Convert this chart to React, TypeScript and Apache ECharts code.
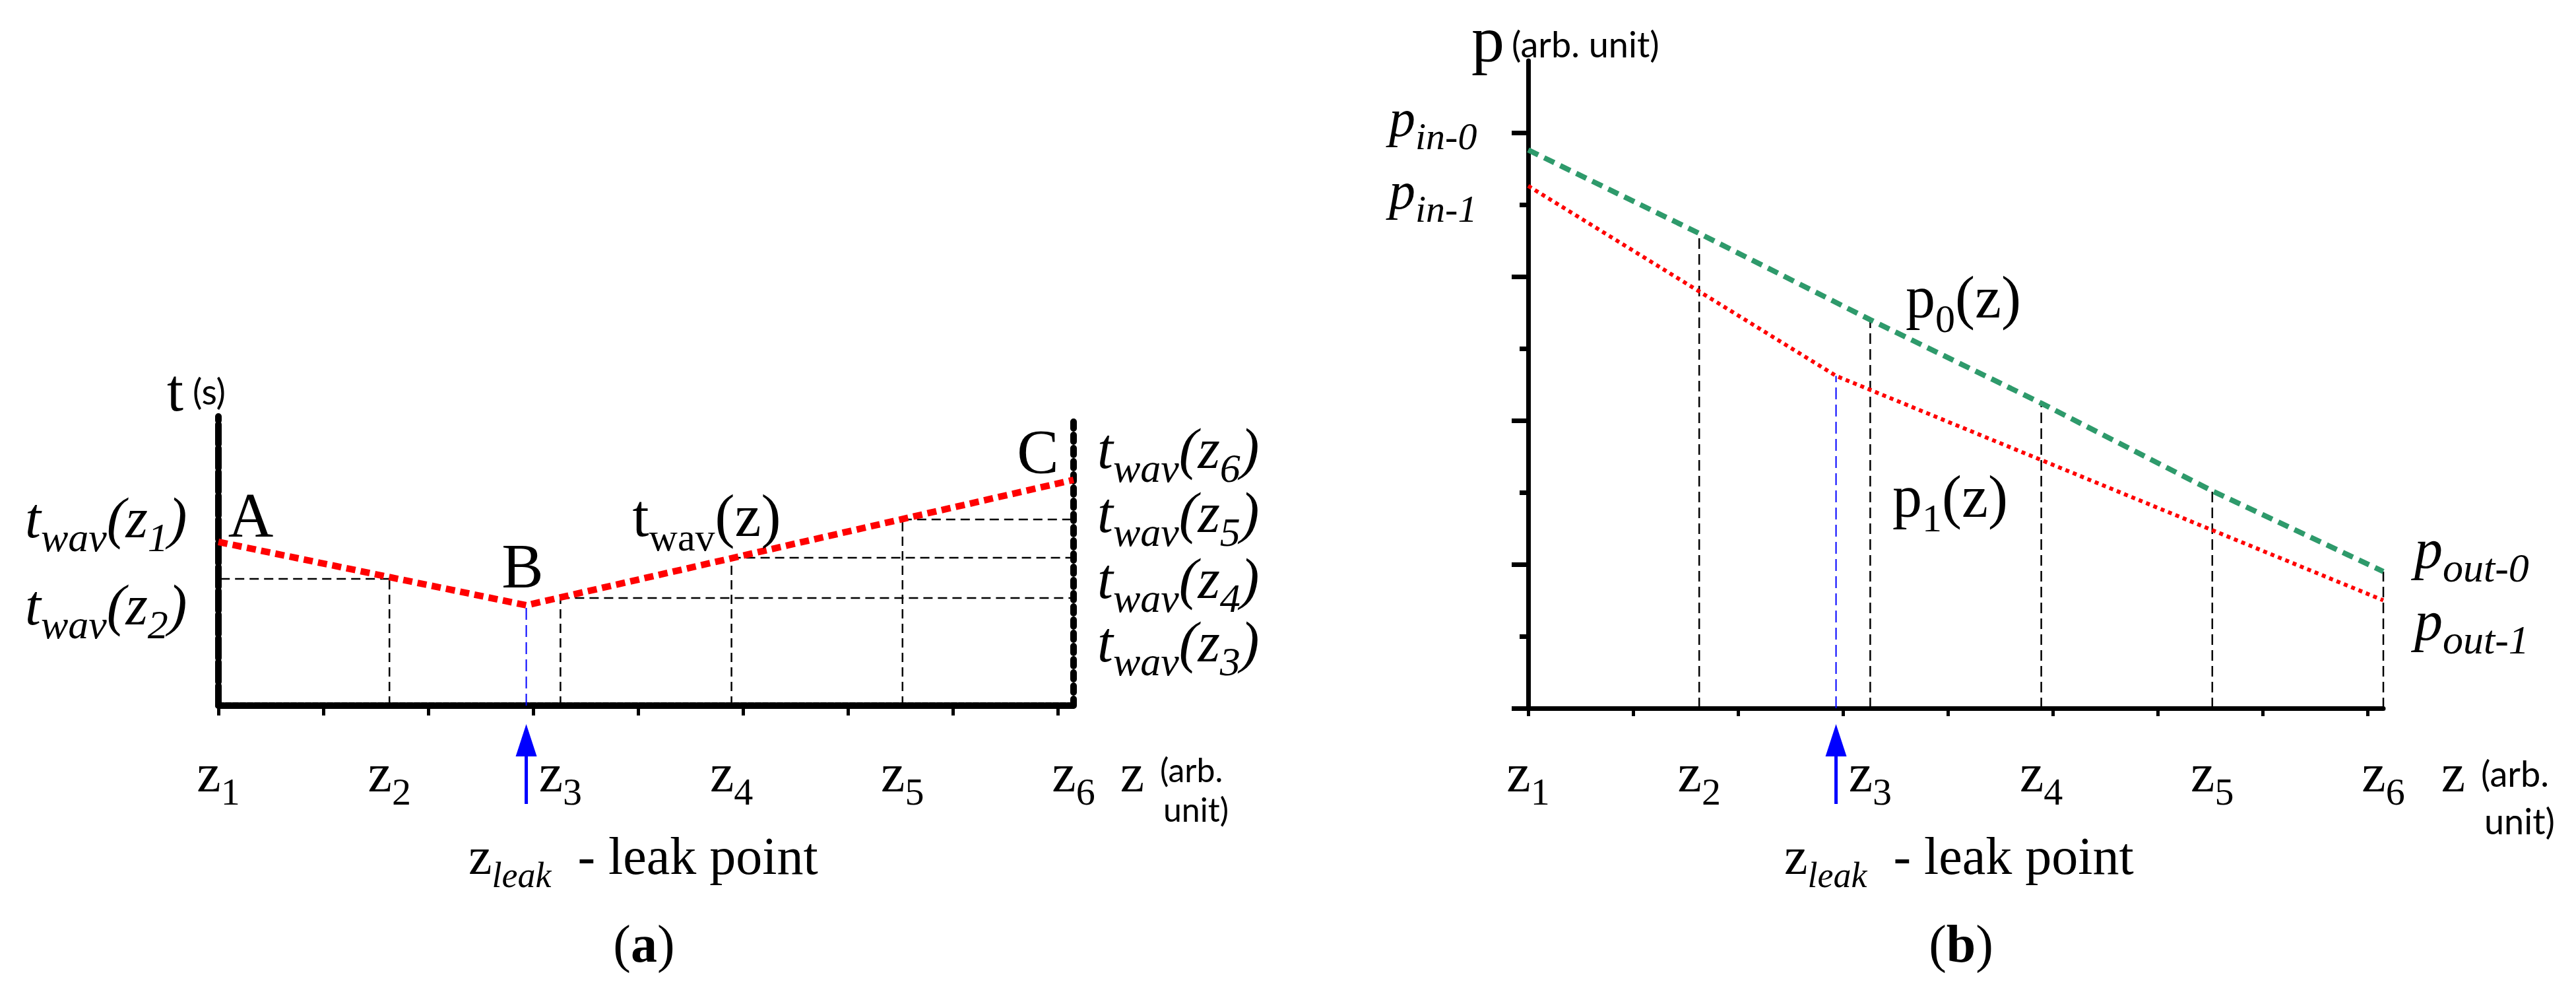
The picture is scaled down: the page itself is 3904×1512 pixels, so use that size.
import React, { useEffect, useRef } from 'react';
import * as echarts from 'echarts';

// ---------- data ----------
const zIndex = [1, 2, 3, 4, 5, 6];
const zLeak = 2.8;
const tickSteps = [0, 1, 2, 3, 4, 5, 6, 7, 8];

// (a) wave arrival time t_wav(z)
const twavKnotZ = [1, 2.8, 6];
const twavKnotT = [2.48, 1.52, 3.42];
const twavAtZ = [2.48, 1.92, 1.63, 2.24, 2.82, 3.42];
const twavGuideEnd = [null, 1, 6, 6, 6, null];
const leftTLabels = ['1', '2'];
const rightTLabels = ['6', '5', '4', '3'];

// (b) pressure profiles
const p0AtZ = [3.88, 3.3, 2.7, 2.12, 1.51, 0.95];
const p1KnotZ = [1, 2.8, 6];
const p1KnotP = [3.63, 2.31, 0.75];
const pMajorTicks = [0, 1, 2, 3, 4];
const pMinorTicks = [0.5, 1.5, 2.5, 3.5];

const SERIF = '"Liberation Serif","Times New Roman",serif';
const SANS = 'Lato,"Liberation Sans",sans-serif';

function subRich(F: number, f: number, italic: boolean) {
  const fs = italic ? 'italic' : 'normal';
  return {
    m: { fontFamily: SERIF, fontSize: F, lineHeight: Math.round(F * 1.4), fontStyle: fs, fill: '#000' },
    s: { fontFamily: SERIF, fontSize: f, lineHeight: f, verticalAlign: 'bottom', fontStyle: fs, fill: '#000' },
  };
}

function txt(x: number, y: number, text: string, rich: any, align = 'left') {
  return {
    type: 'text',
    x,
    y,
    z: 20,
    silent: true,
    style: { text, rich, align, verticalAlign: 'middle', fill: '#000' },
  };
}

function plain(x: number, y: number, text: string, size: number, family: string, align = 'left') {
  return {
    type: 'text',
    x,
    y,
    z: 20,
    silent: true,
    style: { text, fontSize: size, fontFamily: family, align, verticalAlign: 'middle', fill: '#000' },
  };
}

function seg(xi: number, yi: number, data: any[], color: string, width: number, type: any, z = 2) {
  return {
    type: 'line',
    xAxisIndex: xi,
    yAxisIndex: yi,
    data,
    symbol: 'none',
    silent: true,
    z,
    lineStyle: { color, width, type, cap: 'butt' },
  };
}

export default function App() {
  const ref = useRef<HTMLDivElement>(null);

  useEffect(() => {
    const chart = echarts.init(ref.current!, undefined, { renderer: 'svg' });

    const zLabelRich = {
      m: { fontFamily: SERIF, fontSize: 82, lineHeight: 114, color: '#000' },
      s: { fontFamily: SERIF, fontSize: 58, lineHeight: 58, verticalAlign: 'bottom', color: '#000' },
    };

    const series: any[] = [];
    // ---- panel (a) ----
    zIndex.forEach((z, i) => {
      if (i > 0 && i < 5) {
        series.push(seg(0, 0, [[z, 0], [z, twavAtZ[i]]], '#000', 2.5, [14, 8]));
      }
      const end = twavGuideEnd[i];
      if (end !== null) {
        series.push(seg(0, 0, [[z, twavAtZ[i]], [end, twavAtZ[i]]], '#000', 2.5, [14, 8]));
      }
    });
    series.push(seg(0, 0, [[zLeak, 0], [zLeak, twavKnotT[1]]], '#0000ff', 2, [18, 8]));
    series.push(seg(0, 0, twavKnotZ.map((z, i) => [z, twavKnotT[i]]), '#ff0000', 10, [14, 8], 5));

    // ---- panel (b) ----
    zIndex.forEach((z, i) => {
      if (i > 0) series.push(seg(2, 2, [[z, 0], [z, p0AtZ[i]]], '#000', 2.5, [16, 8]));
    });
    series.push(seg(2, 2, [[zLeak, 0], [zLeak, p1KnotP[1]]], '#0000ff', 2, [18, 8]));
    series.push(seg(2, 2, zIndex.map((z, i) => [z, p0AtZ[i]]), '#2e9a6b', 8, [17, 10], 5));
    series.push(seg(2, 2, p1KnotZ.map((z, i) => [z, p1KnotP[i]]), '#ff0000', 6, [6, 6], 6));

    const noSplit = { show: false };
    const option: any = {
      animation: false,
      backgroundColor: '#fff',
      grid: [
        { left: 331, top: 631, width: 1296, height: 438, containLabel: false, outerBoundsMode: 'none' },
        { left: 2316, top: 92, width: 1296, height: 981, containLabel: false, outerBoundsMode: 'none' },
      ],
      xAxis: [
        {
          gridIndex: 0, type: 'value', min: 1, max: 6, interval: 1, position: 'bottom',
          axisLine: { show: true, onZero: false, lineStyle: { color: '#000', width: 10, type: [8, 3] } },
          axisTick: { show: false }, splitLine: noSplit,
          axisLabel: { show: true, margin: 45, formatter: (v: number) => `{m|z}{s|${v}}`, rich: zLabelRich },
        },
        {
          gridIndex: 0, type: 'value', min: 0, max: 8.15, position: 'bottom',
          axisLine: { show: false, onZero: false },
          axisTick: { show: true, length: 15, customValues: tickSteps, lineStyle: { color: '#000', width: 5 } },
          axisLabel: { show: false }, splitLine: noSplit,
        },
        {
          gridIndex: 1, type: 'value', min: 1, max: 6, interval: 1, position: 'bottom',
          axisLine: { show: true, onZero: false, lineStyle: { color: '#000', width: 7 } },
          axisTick: { show: false }, splitLine: noSplit,
          axisLabel: { show: true, margin: 41, formatter: (v: number) => `{m|z}{s|${v}}`, rich: zLabelRich },
        },
        {
          gridIndex: 1, type: 'value', min: 0, max: 8.15, position: 'bottom',
          axisLine: { show: false, onZero: false },
          axisTick: { show: true, length: 12, customValues: tickSteps, lineStyle: { color: '#000', width: 5 } },
          axisLabel: { show: false }, splitLine: noSplit,
        },
      ],
      yAxis: [
        {
          gridIndex: 0, type: 'value', min: 0, max: 4.38, position: 'left',
          axisLine: { show: true, onZero: false, lineStyle: { color: '#000', width: 10, type: [30, 6] } },
          axisTick: { show: false }, axisLabel: { show: false }, splitLine: noSplit,
        },
        {
          gridIndex: 0, type: 'value', min: 0, max: 4.38, position: 'right',
          axisLine: { show: true, onZero: false, lineStyle: { color: '#000', width: 10, type: 'dotted' } },
          axisTick: { show: false }, axisLabel: { show: false }, splitLine: noSplit,
        },
        {
          gridIndex: 1, type: 'value', min: 0, max: 4.5, position: 'left',
          axisLine: { show: true, onZero: false, lineStyle: { color: '#000', width: 7 } },
          axisTick: { show: true, length: 25, customValues: pMajorTicks, lineStyle: { color: '#000', width: 7 } },
          axisLabel: { show: false }, splitLine: noSplit,
        },
        {
          gridIndex: 1, type: 'value', min: 0, max: 4.5, position: 'left',
          axisLine: { show: false, onZero: false },
          axisTick: { show: true, length: 13, customValues: pMinorTicks, lineStyle: { color: '#000', width: 7 } },
          axisLabel: { show: false }, splitLine: noSplit,
        },
      ],
      series,
    };
    chart.setOption(option);

    const lx = (chart.convertToPixel({ xAxisIndex: 0, yAxisIndex: 0 }, [zLeak, 0]) as number[])[0];
    const rx = (chart.convertToPixel({ xAxisIndex: 2, yAxisIndex: 2 }, [zLeak, 0]) as number[])[0];

    const arrow = (x: number) => [
      { type: 'line', z: 20, silent: true, shape: { x1: x, y1: 1218, x2: x, y2: 1140 }, style: { stroke: '#0000ff', lineWidth: 5 } },
      { type: 'polygon', z: 20, silent: true, shape: { points: [[x, 1097], [x - 16, 1146], [x + 16, 1146]] }, style: { fill: '#0000ff' } },
    ];

    const twR = subRich(86, 62, true);
    const twavLabel = (n: string) => `{m|t}{s|wav}{m|(z}{s|${n}}{m|)}`;
    const pInR = subRich(80, 58, true);
    const pOutR = subRich(86, 62, true);
    const pzR = subRich(90, 60, false);
    const leakRich = {
      m: { fontFamily: SERIF, fontSize: 80, lineHeight: 112, fill: '#000' },
      s: { fontFamily: SERIF, fontSize: 54, lineHeight: 54, verticalAlign: 'bottom', fontStyle: 'italic', fill: '#000' },
    };
    const capRich = {
      m: { fontFamily: SERIF, fontSize: 80, lineHeight: 100, fill: '#000' },
      b: { fontFamily: SERIF, fontSize: 80, lineHeight: 100, fontWeight: 'bold', fill: '#000' },
    };

    const graphic: any[] = [
      // panel (a)
      plain(253, 591, 't', 90, SERIF),
      plain(292, 592, '(s)', 54, SANS),
      plain(380, 781, 'A', 95, SERIF, 'center'),
      plain(792, 858, 'B', 95, SERIF, 'center'),
      plain(1573, 685, 'C', 95, SERIF, 'center'),
      txt(1071, 781, '{m|t}{s|wav}{m|(z)}', subRich(90, 60, false), 'center'),
      ...leftTLabels.map((n, i) => txt(38, [785, 917][i], twavLabel(n), twR)),
      ...rightTLabels.map((n, i) => txt(1663, [680, 777, 877, 973][i], twavLabel(n), twR)),
      plain(1716, 1171, 'z', 82, SERIF, 'center'),
      plain(1758, 1166, '(arb.', 50, SANS),
      plain(1862, 1226, 'unit)', 50, SANS, 'right'),
      txt(710, 1297, '{m|z}{s|leak}{m|  - leak point}', leakRich),
      txt(976, 1430, '{m|(}{b|a}{m|)}', capRich, 'center'),
      ...arrow(lx),
      // panel (b)
      plain(2230, 59, 'p', 100, SERIF),
      plain(2291, 66, '(arb. unit)', 54, SANS),
      txt(2105, 179, '{m|p}{s|in-0}', pInR),
      txt(2105, 289, '{m|p}{s|in-1}', pInR),
      txt(2888, 450, '{m|p}{s|0}{m|(z)}', pzR),
      txt(2868, 752, '{m|p}{s|1}{m|(z)}', pzR),
      txt(3659, 831, '{m|p}{s|out-0}', pOutR),
      txt(3659, 940, '{m|p}{s|out-1}', pOutR),
      plain(3718, 1171, 'z', 82, SERIF, 'center'),
      plain(3760, 1171, '(arb.', 54, SANS),
      plain(3872, 1243, 'unit)', 54, SANS, 'right'),
      txt(2704, 1297, '{m|z}{s|leak}{m|  - leak point}', leakRich),
      txt(2972, 1430, '{m|(}{b|b}{m|)}', capRich, 'center'),
      ...arrow(rx),
    ];
    chart.setOption({ graphic });

    return () => chart.dispose();
  }, []);

  return (
    <div
      ref={ref}
      style={{ position: 'fixed', left: 0, top: 0, width: 3904, height: 1512, background: '#fff' }}
    />
  );
}
